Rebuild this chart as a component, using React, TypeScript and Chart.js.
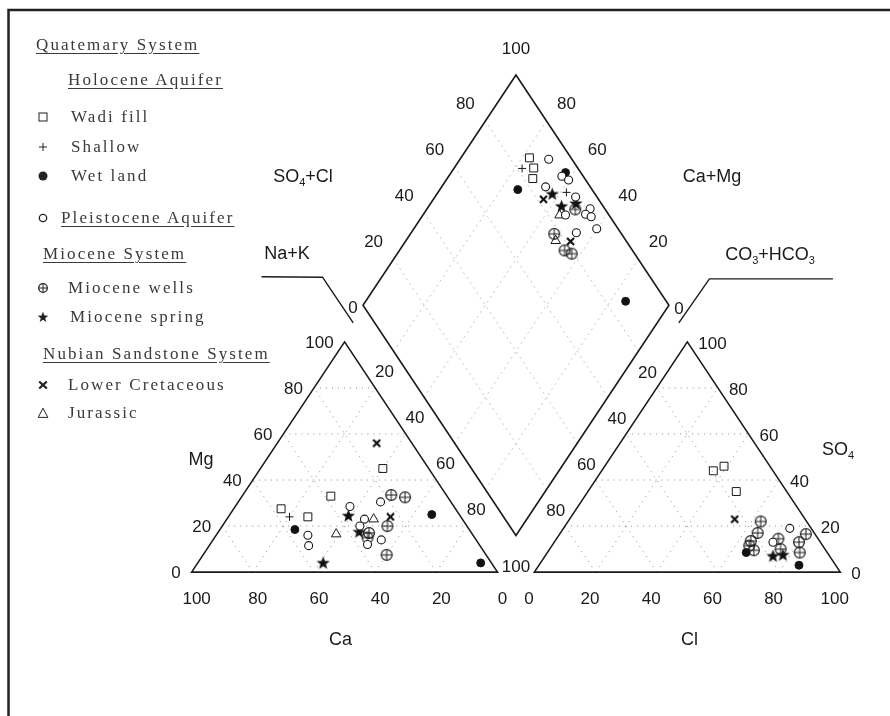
import React, { useEffect, useRef } from 'react';
import { Chart, registerables } from 'chart.js';
Chart.register(...registerables);

// ---------- DATA ----------
// Cation triangle values: [Ca %, Mg %]  (Na+K = 100 - Ca - Mg)
const wadiCat = [[57, 27.5], [50, 24], [38, 33], [15, 45]];
const shallowCat = [[56, 24]];
const wetCat = [[57, 18.5], [9, 25], [3.5, 4]];
const pleistCat = [[54, 16], [56, 11.5], [34, 28.5], [32, 23], [23, 30.5], [31, 14], [36.5, 12], [35, 20]];
const mioWellsCat = [[18, 33.5], [14, 32.5], [26, 20], [33.5, 17], [35, 15], [32.5, 7.5]];
const mioSpringCat = [[36.5, 24.5], [36.5, 17.5], [55, 4]];
const lowerCretCat = [[11.5, 56], [23, 24]];
const jurassicCat = [[44.5, 16.5], [29, 23]];

// Anion triangle values: [Cl %, SO4 %]  (CO3+HCO3 = 100 - Cl - SO4)
const wadiAn = [[36.5, 44], [39, 46], [48.5, 35]];
const shallowAn: number[][] = [];
const wetAn = [[65, 8.5], [85, 3]];
const pleistAn = [[74, 19], [71.5, 13]];
const mioWellsAn = [[63, 22], [64.5, 17], [64, 13.5], [64.5, 11.5], [67, 9.5], [72.5, 14.5], [75.5, 10], [80, 13], [80.5, 16.5], [82.5, 8.5]];
const mioSpringAn = [[74.5, 7], [77.5, 7.5]];
const lowerCretAn = [[54, 23]];
const jurassicAn: number[][] = [];

// Diamond values: [Ca+Mg %, SO4+Cl %]
const wadiDia = [[77.6, 86.4], [74, 85.6], [72, 83]];
const shallowDia = [[77.7, 81.7], [58, 91]];
const wetDia = [[62.6, 95], [74.5, 75.7], [15, 86.7]];
const pleistDia = [[71, 92.4], [63, 93], [60, 94.4], [66, 85.4], [54, 93], [46.7, 95.2], [47, 92.5], [44.6, 93.8], [53.4, 85.8], [40.2, 93], [46, 85.5]];
const mioWellsDia = [[51.4, 90.2], [53, 78], [46, 77.8], [43, 79.4]];
const mioSpringDia = [[62.3, 86], [56.6, 86.4], [52.5, 91.7]];
const lowerCretDia = [[64, 82], [46, 81.7]];
const jurassicDia = [[55.3, 83.8], [51, 77]];

const tickValues = [0, 20, 40, 60, 80, 100];
const gridValues = [20, 40, 60, 80];

// ---------- GEOMETRY (diagram units; triangle side = 100) ----------
const H = 50 * Math.sqrt(3);
const GAP = 12.04;
const LIFT = 13.79;
const X_MIN = -60.03, X_MAX = 225.68, Y_MIN = -51.11, Y_MAX = 212.18;

type Pt = [number, number];
const catA: Pt = [0, 0], catB: Pt = [100, 0], catC: Pt = [50, H];
const anA: Pt = [100 + GAP, 0], anB: Pt = [200 + GAP, 0], anC: Pt = [150 + GAP, H];
const diaB: Pt = [100 + GAP / 2, LIFT], diaL: Pt = [50 + GAP / 2, LIFT + H], diaR: Pt = [150 + GAP / 2, LIFT + H], diaT: Pt = [100 + GAP / 2, LIFT + 2 * H];

const lerp = (p: Pt, q: Pt, f: number): Pt => [p[0] + (q[0] - p[0]) * f, p[1] + (q[1] - p[1]) * f];

const catXY = ([ca, mg]: number[]) => { const na = 100 - ca - mg; return { x: na + mg / 2, y: (mg * H) / 100 }; };
const anXY = ([cl, so4]: number[]) => ({ x: 100 + GAP + cl + so4 / 2, y: (so4 * H) / 100 });
const diaXY = ([camg, so4cl]: number[]) => { const a = camg / 100, c = so4cl / 100; return { x: diaB[0] + 50 * (c - a), y: diaB[1] + H * (a + c) }; };

const INK = '#1a1a1a';

function makeCanvas(w: number, h: number, draw: (c: CanvasRenderingContext2D) => void) {
  const cv = document.createElement('canvas');
  cv.width = w; cv.height = h;
  const c = cv.getContext('2d')!;
  draw(c);
  return cv;
}

function starPath(c: CanvasRenderingContext2D, cx: number, cy: number, R: number, r: number) {
  c.beginPath();
  for (let i = 0; i < 10; i++) {
    const ang = -Math.PI / 2 + (i * Math.PI) / 5;
    const rad = i % 2 === 0 ? R : r;
    const px = cx + rad * Math.cos(ang), py = cy + rad * Math.sin(ang);
    if (i === 0) c.moveTo(px, py); else c.lineTo(px, py);
  }
  c.closePath();
}

function drawRich(ctx: CanvasRenderingContext2D, parts: [string, boolean][], cx: number, cy: number, size: number) {
  const big = `${size}px "Liberation Sans", Arial, sans-serif`;
  const small = `${Math.round(size * 0.62)}px "Liberation Sans", Arial, sans-serif`;
  let total = 0;
  for (const [t, sub] of parts) { ctx.font = sub ? small : big; total += ctx.measureText(t).width; }
  let x = cx - total / 2;
  ctx.textAlign = 'left';
  ctx.textBaseline = 'middle';
  for (const [t, sub] of parts) {
    ctx.font = sub ? small : big;
    ctx.fillText(t, x, sub ? cy + size * 0.33 : cy);
    x += ctx.measureText(t).width;
  }
}

const piperPlugin = {
  id: 'piperFrame',
  beforeDatasetsDraw(chart: any) {
    const { ctx, scales } = chart;
    const sx = scales.x, sy = scales.y;
    const P = (p: Pt): Pt => [sx.getPixelForValue(p[0]), sy.getPixelForValue(p[1])];
    const seg = (p: Pt, q: Pt) => { const a = P(p), b = P(q); ctx.moveTo(a[0], a[1]); ctx.lineTo(b[0], b[1]); };
    ctx.save();

    // frame
    ctx.strokeStyle = '#222';
    ctx.lineWidth = 2.5;
    ctx.beginPath();
    ctx.moveTo(8.5, 716); ctx.lineTo(8.5, 10); ctx.lineTo(890, 10);
    ctx.stroke();

    // dotted grid
    ctx.strokeStyle = '#8a8a8a';
    ctx.lineWidth = 1;
    ctx.setLineDash([1, 5]);
    ctx.beginPath();
    for (const k of gridValues) {
      const f = k / 100;
      for (const [A, B, C] of [[catA, catB, catC], [anA, anB, anC]] as Pt[][]) {
        seg(lerp(A, C, f), lerp(B, C, f));
        seg(lerp(A, B, f), lerp(A, C, f));
        seg(lerp(B, A, f), lerp(B, C, f));
      }
      seg(lerp(diaB, diaL, f), lerp(diaR, diaT, f));
      seg(lerp(diaB, diaR, f), lerp(diaL, diaT, f));
    }
    ctx.stroke();
    ctx.setLineDash([]);

    // outlines
    ctx.strokeStyle = INK;
    ctx.lineWidth = 1.6;
    ctx.lineJoin = 'miter';
    for (const poly of [[catA, catB, catC], [anA, anB, anC], [diaB, diaR, diaT, diaL]] as Pt[][]) {
      ctx.beginPath();
      poly.forEach((p, i) => { const q = P(p); if (i === 0) ctx.moveTo(q[0], q[1]); else ctx.lineTo(q[0], q[1]); });
      ctx.closePath();
      ctx.stroke();
    }

    // leader lines
    const L = P(diaL), R = P(diaR), Bp = P(diaB), T = P(diaT);
    ctx.lineWidth = 1.4;
    ctx.beginPath();
    ctx.moveTo(L[0] - 101.5, L[1] - 28.5); ctx.lineTo(L[0] - 40.5, L[1] - 28); ctx.lineTo(L[0] - 9.8, L[1] + 17.7);
    ctx.moveTo(R[0] + 164, R[1] - 26.3); ctx.lineTo(R[0] + 40.5, R[1] - 26.3); ctx.lineTo(R[0] + 9.9, R[1] + 17.7);
    ctx.stroke();

    // numeric labels
    ctx.fillStyle = INK;
    ctx.font = '17px "Liberation Sans", Arial, sans-serif';
    ctx.textBaseline = 'middle';
    // Mg axis (left edge of cation triangle)
    ctx.textAlign = 'right';
    for (const k of tickValues) {
      const q = P(lerp(catA, catC, k / 100));
      ctx.fillText(String(k), q[0] - 11, q[1] + 1.5);
    }
    // SO4 axis (right edge of anion triangle)
    ctx.textAlign = 'left';
    for (const k of tickValues) {
      const q = P(lerp(anB, anC, k / 100));
      ctx.fillText(String(k), q[0] + 11, q[1] + 2.5);
    }
    ctx.textAlign = 'center';
    // Ca bottom axis
    for (const k of tickValues) {
      const q = P(lerp(catA, catB, (100 - k) / 100));
      ctx.fillText(String(k), q[0] + 5, q[1] + 27);
    }
    // Cl bottom axis
    for (const k of tickValues) {
      const q = P(lerp(anA, anB, k / 100));
      ctx.fillText(String(k), q[0] - 5.5, q[1] + 27);
    }
    // shared gap labels (Na+K and CO3+HCO3)
    for (const k of gridValues) {
      const f = k / 100;
      const a = P(lerp(catC, catB, f)), b = P(lerp(diaL, diaB, f));
      ctx.fillText(String(k), (a[0] + b[0]) / 2, (a[1] + b[1]) / 2 + 3);
      const c = P(lerp(anC, anA, f)), d = P(lerp(diaR, diaB, f));
      ctx.fillText(String(k), (c[0] + d[0]) / 2, (c[1] + d[1]) / 2 + 3.5);
    }
    ctx.fillText('0', L[0] - 10, L[1] + 3);
    ctx.fillText('0', R[0] + 10, R[1] + 4);
    ctx.fillText('100', Bp[0], Bp[1] + 31.5);
    // diamond upper edges
    for (const k of gridValues) {
      const f = k / 100;
      const a = P(lerp(diaL, diaT, f));
      ctx.fillText(String(k), a[0] - 20, a[1] - 17);
      const b = P(lerp(diaR, diaT, f));
      ctx.fillText(String(k), b[0] + 20, b[1] - 17);
    }
    ctx.fillText('100', T[0], T[1] - 25.5);

    // axis titles
    ctx.font = '18px "Liberation Sans", Arial, sans-serif';
    ctx.fillText('Ca', 340.5, 640);
    ctx.fillText('Cl', 689.6, 640);
    ctx.fillText('Mg', 201, 460);
    ctx.fillText('Na+K', 287, 254);
    drawRich(ctx, [['SO', false], ['4', true]], 838, 450, 18);
    drawRich(ctx, [['CO', false], ['3', true], ['+HCO', false], ['3', true]], 770, 255, 18);
    drawRich(ctx, [['SO', false], ['4', true], ['+Cl', false]], 303, 177, 18);
    drawRich(ctx, [['Ca+Mg', false]], 712, 177, 18);

    ctx.restore();
  },
};

function LegendMarker({ kind }: { kind: string }) {
  const s = 'currentColor';
  let el: any = null;
  if (kind === 'square') el = <rect x={3} y={3} width={8} height={8} fill="none" stroke={s} strokeWidth={1} />;
  if (kind === 'plus') el = <path d="M3 7H11M7 3V11" stroke={s} strokeWidth={1} />;
  if (kind === 'dot') el = <circle cx={7} cy={7} r={4.5} fill={s} />;
  if (kind === 'ring') el = <circle cx={7} cy={7} r={3.7} fill="none" stroke={s} strokeWidth={1.3} />;
  if (kind === 'oplus') el = <g><circle cx={7} cy={7} r={4.3} fill="none" stroke={s} strokeWidth={1.3} /><path d="M2.7 7H11.3M7 2.7V11.3" stroke={s} strokeWidth={1} /></g>;
  if (kind === 'star') el = <path d="M7 1.8L8.4 5.6L12.3 5.7L9.2 8.2L10.3 12L7 9.8L3.7 12L4.8 8.2L1.7 5.7L5.6 5.6Z" fill={s} />;
  if (kind === 'bow') el = <path d="M3.2 3.5L10.8 10.5M10.8 3.5L3.2 10.5" stroke={s} strokeWidth={2.3} />;
  if (kind === 'tri') el = <path d="M7 2.2L11.8 11.4H2.2Z" fill="none" stroke={s} strokeWidth={1} />;
  return <svg width={14} height={14} style={{ position: 'absolute', left: 0, top: 0, color: '#222' }}>{el}</svg>;
}

const legendRows: { text: string; x: number; y: number; underline?: boolean; marker?: string }[] = [
  { text: 'Quatemary System', x: 36, y: 45, underline: true },
  { text: 'Holocene Aquifer', x: 68, y: 80, underline: true },
  { text: 'Wadi fill', x: 71, y: 117, marker: 'square' },
  { text: 'Shallow', x: 71, y: 147, marker: 'plus' },
  { text: 'Wet land', x: 71, y: 176, marker: 'dot' },
  { text: 'Pleistocene Aquifer', x: 61, y: 218, underline: true, marker: 'ring' },
  { text: 'Miocene System', x: 43, y: 254, underline: true },
  { text: 'Miocene wells', x: 68, y: 288, marker: 'oplus' },
  { text: 'Miocene spring', x: 70, y: 317, marker: 'star' },
  { text: 'Nubian Sandstone System', x: 43, y: 354, underline: true },
  { text: 'Lower Cretaceous', x: 68, y: 385, marker: 'bow' },
  { text: 'Jurassic', x: 68, y: 413, marker: 'tri' },
];

export default function App() {
  const ref = useRef<HTMLCanvasElement>(null);
  useEffect(() => {
    const canvas = ref.current!;
    const oplus = makeCanvas(14, 14, (c) => {
      c.strokeStyle = '#1a1a1a'; c.lineWidth = 1.2;
      c.beginPath(); c.arc(7, 7, 5.4, 0, Math.PI * 2); c.stroke();
      c.lineWidth = 1; c.beginPath(); c.moveTo(1.5, 7); c.lineTo(12.5, 7); c.moveTo(7, 1.5); c.lineTo(7, 12.5); c.stroke();
    });
    const star = makeCanvas(15, 15, (c) => { c.fillStyle = '#111'; starPath(c, 7.5, 7.9, 7, 2.9); c.fill(); });
    const bow = makeCanvas(9, 9, (c) => {
      c.strokeStyle = '#111'; c.lineWidth = 2.2;
      c.beginPath(); c.moveTo(1, 1); c.lineTo(8, 8); c.moveTo(8, 1); c.lineTo(1, 8); c.stroke();
    });
    const series = (label: string, cat: number[][], an: number[][], dia: number[][], style: any) => ({
      label,
      data: [...cat.map(catXY), ...an.map(anXY), ...dia.map(diaXY)],
      showLine: false,
      borderColor: INK,
      backgroundColor: 'rgba(255,255,255,0)',
      borderWidth: 1,
      ...style,
    });
    const chart = new Chart(canvas, {
      type: 'scatter',
      data: {
        datasets: [
          series('Wadi fill', wadiCat, wadiAn, wadiDia, { pointStyle: 'rect', pointRadius: 5.6 }),
          series('Shallow', shallowCat, shallowAn, shallowDia, { pointStyle: 'cross', pointRadius: 4 }),
          series('Pleistocene Aquifer', pleistCat, pleistAn, pleistDia, { pointStyle: 'circle', pointRadius: 4, backgroundColor: '#fff', borderWidth: 1.1 }),
          series('Miocene wells', mioWellsCat, mioWellsAn, mioWellsDia, { pointStyle: oplus, pointRadius: 6 }),
          series('Jurassic', jurassicCat, jurassicAn, jurassicDia, { pointStyle: 'triangle', pointRadius: 5.5 }),
          series('Lower Cretaceous', lowerCretCat, lowerCretAn, lowerCretDia, { pointStyle: bow, pointRadius: 5 }),
          series('Miocene spring', mioSpringCat, mioSpringAn, mioSpringDia, { pointStyle: star, pointRadius: 7 }),
          series('Wet land', wetCat, wetAn, wetDia, { pointStyle: 'circle', pointRadius: 4, backgroundColor: '#111' }),
        ],
      },
      options: {
        responsive: false,
        animation: false,
        devicePixelRatio: 1,
        layout: { padding: 0 },
        plugins: { legend: { display: false }, tooltip: { enabled: false } },
        scales: {
          x: { type: 'linear', min: X_MIN, max: X_MAX, display: false },
          y: { type: 'linear', min: Y_MIN, max: Y_MAX, display: false },
        },
      },
      plugins: [piperPlugin],
    });
    return () => chart.destroy();
  }, []);

  return (
    <div style={{ position: 'relative', width: 890, height: 716, overflow: 'hidden', background: '#fff' }}>
      <style>{'body{margin:0;background:#fff}'}</style>
      <canvas ref={ref} width={890} height={716} style={{ position: 'absolute', left: 0, top: 0, display: 'block' }} />
      {legendRows.map((r) => (
        <React.Fragment key={r.text}>
          {r.marker && (
            <div style={{ position: 'absolute', left: 36, top: r.y - 7, width: 14, height: 14 }}>
              <LegendMarker kind={r.marker} />
            </div>
          )}
          <div
            style={{
              position: 'absolute',
              left: r.x,
              top: r.y - 10,
              height: 20,
              lineHeight: '20px',
              whiteSpace: 'nowrap',
              fontFamily: '"Liberation Serif", "Times New Roman", serif',
              fontSize: 17,
              letterSpacing: '2.1px',
              color: '#3a3a3a',
              textDecoration: r.underline ? 'underline' : 'none',
              textUnderlineOffset: '3px',
            }}
          >
            {r.text}
          </div>
        </React.Fragment>
      ))}
    </div>
  );
}
